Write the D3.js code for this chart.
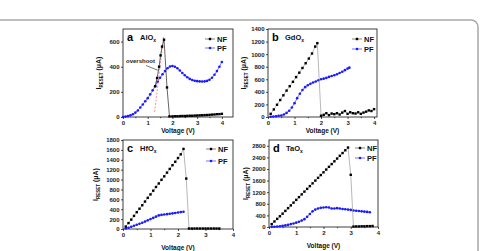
<!DOCTYPE html>
<html>
<head>
<meta charset="utf-8">
<script src="https://cdn.jsdelivr.net/npm/d3@7"></script>
<style>
body{margin:0;background:#fff;}
svg{display:block;font-family:"Liberation Sans",Arial,sans-serif;font-weight:bold;}
</style>
</head>
<body>
<script>
//values: voltage (V) and reset current (uA)
var aNfV = [1.30,1.38,1.46,1.52,1.58,1.66,1.78,1.88,2.0,2.1,2.2,2.3,2.4,2.5,2.6,2.7,2.8,2.9,3.0,3.1,3.2,3.3,3.4,3.5,3.6,3.7,3.8,3.9,4.0];
var aNfI = [245,310,400,490,560,615,235,5,5,6,6,7,8,8,9,10,10,11,12,13,14,15,16,17,19,20,22,23,25];
var aPfV = [0,0.1,0.2,0.3,0.4,0.5,0.6,0.7,0.8,0.9,1.0,1.1,1.2,1.3,1.4,1.5,1.6,1.7,1.8,1.9,2.0,2.1,2.2,2.3,2.4,2.5,2.6,2.7,2.8,2.9,3.0,3.1,3.2,3.3,3.4,3.5,3.6,3.7,3.8,3.9,4.0];
var aPfI = [0,3,7,13,22,35,52,75,100,125,150,180,212,245,280,312,340,365,388,402,406,400,388,370,350,332,316,303,294,288,285,283,282,283,287,296,312,336,365,400,437];
var aFitV = [1.28,1.64];
var aFitI = [40,640];

var bNfV = [0.10,0.22,0.34,0.46,0.58,0.70,0.82,0.94,1.06,1.18,1.30,1.42,1.54,1.66,1.78,1.86,2.0,2.1,2.2,2.3,2.4,2.5,2.6,2.7,2.8,2.9,3.0,3.1,3.2,3.3,3.4,3.5,3.6,3.7,3.8,3.9,4.0];
var bNfI = [50,120,195,270,345,420,490,560,635,705,780,855,930,1010,1120,1175,20,35,60,30,55,45,60,40,70,95,50,75,60,55,75,50,70,85,105,95,125];
var bPfV = [0.1,0.2,0.3,0.4,0.5,0.6,0.7,0.8,0.9,1.0,1.1,1.2,1.3,1.4,1.5,1.6,1.7,1.8,1.9,2.0,2.1,2.2,2.3,2.4,2.5,2.6,2.7,2.8,2.9,3.0,3.07];
var bPfI = [5,8,12,18,25,40,65,100,150,220,300,370,430,475,505,528,548,565,585,600,610,622,638,652,665,680,700,720,745,770,785];

var cNfV = [0.1,0.2,0.3,0.4,0.5,0.6,0.7,0.8,0.9,1.0,1.1,1.2,1.3,1.4,1.5,1.6,1.7,1.8,1.9,2.0,2.1,2.2,2.3,2.4,2.5,2.6,2.7,2.8,2.9,3.0,3.1,3.2,3.3,3.4,3.5];
var cNfI = [50,120,190,265,340,410,480,555,630,700,775,850,920,995,1065,1140,1215,1290,1360,1435,1510,1620,1020,10,10,10,10,10,10,10,10,10,10,10,10];
var cPfV = [0.1,0.2,0.3,0.4,0.5,0.6,0.7,0.8,0.9,1.0,1.1,1.2,1.3,1.4,1.5,1.6,1.7,1.8,1.9,2.0,2.1,2.2];
var cPfI = [12,25,45,65,85,105,125,150,175,200,225,250,275,285,292,300,308,316,325,333,342,348];

var dNfV = [0.1,0.2,0.3,0.4,0.5,0.6,0.7,0.8,0.9,1.0,1.1,1.2,1.3,1.4,1.5,1.6,1.7,1.8,1.9,2.0,2.1,2.2,2.3,2.4,2.5,2.6,2.7,2.8,2.9,3.0,3.1,3.2,3.3,3.4,3.5,3.6,3.7,3.8];
var dNfI = [100,190,280,370,460,555,650,745,840,935,1030,1125,1220,1315,1410,1505,1600,1695,1790,1885,1980,2075,2170,2265,2360,2455,2550,2645,2740,1800,15,20,20,25,25,30,30,35];
var dPfV = [0.1,0.2,0.3,0.4,0.5,0.6,0.7,0.8,0.9,1.0,1.1,1.2,1.3,1.4,1.5,1.6,1.7,1.8,1.9,2.0,2.1,2.2,2.3,2.4,2.5,2.6,2.7,2.8,2.9,3.0,3.1,3.2,3.3,3.4,3.5,3.6,3.7];
var dPfI = [5,10,15,25,40,55,75,100,120,150,180,220,270,350,450,540,600,640,660,670,680,670,640,640,650,640,620,610,600,590,570,560,550,540,530,520,510];

var xTicks = [0,1,2,3,4];
var xMinor = [0.5,1.5,2.5,3.5];
var aYTicks = [0,200,400,600];
var bYTicks = [0,200,400,600,800,1000,1200,1400];
var cYTicks = [0,200,400,600,800,1000,1200,1400,1600,1800];
var dYTicks = [0,400,800,1200,1600,2000,2400,2800];
var letters = ["a","b","c","d"];
var oxides = ["AlO","GdO","HfO","TaO"];
var seriesNames = ["NF","PF"];

var svg = d3.select("body").append("svg")
    .attr("width", 480)
    .attr("height", 251);

//grey rounded frame of the figure
svg.append("rect")
    .attr("x", -20).attr("y", 20)
    .attr("width", 498).attr("height", 260)
    .attr("rx", 7)
    .attr("fill", "none")
    .attr("stroke", "#a8a8a8")
    .attr("stroke-width", 1.5);

var panels = [
    {id:0, nfV:aNfV, nfI:aNfI, pfV:aPfV, pfI:aPfI, yTicks:aYTicks, xMax:4.45, yMax:700,
     left:123, right:233, top:29, bottom:117, nfLine:"#222", legX:205, legY:39, legGap:9, ylabX:101, xlabY:133},
    {id:1, nfV:bNfV, nfI:bNfI, pfV:bPfV, pfI:bPfI, yTicks:bYTicks, xMax:4.11, yMax:1400,
     left:268, right:377, top:29, bottom:117, nfLine:"#999", legX:352, legY:39, legGap:10, ylabX:246, xlabY:133},
    {id:2, nfV:cNfV, nfI:cNfI, pfV:cPfV, pfI:cPfI, yTicks:cYTicks, xMax:4, yMax:1800,
     left:123, right:233, top:140, bottom:229, nfLine:"#999", legX:206, legY:149, legGap:12, ylabX:98, xlabY:250},
    {id:3, nfV:dNfV, nfI:dNfI, pfV:dPfV, pfI:dPfI, yTicks:dYTicks, xMax:4, yMax:3000,
     left:269, right:378, top:140, bottom:227, nfLine:"#999", legX:355, legY:148, legGap:10, ylabX:248, xlabY:248}
];

panels.forEach(drawPanel);

function drawPanel(p){
    var x = d3.scaleLinear().domain([0, p.xMax]).range([p.left, p.right]);
    var y = d3.scaleLinear().domain([0, p.yMax]).range([p.bottom, p.top]);
    var g = svg.append("g");

    //axes with outward ticks
    var xa = g.append("g").attr("transform", "translate(0," + p.bottom + ")")
        .call(d3.axisBottom(x).tickValues(xTicks).tickSize(2).tickPadding(1.5).tickFormat(d3.format("d")));
    g.append("g").attr("transform", "translate(0," + p.bottom + ")")
        .call(d3.axisBottom(x).tickValues(xMinor).tickSize(1.2).tickFormat(""));
    var ya = g.append("g").attr("transform", "translate(" + p.left + ",0)")
        .call(d3.axisLeft(y).tickValues(p.yTicks).tickSize(2).tickPadding(1.5).tickFormat(d3.format("d")));
    g.selectAll(".domain").remove();
    g.selectAll(".tick line").attr("stroke", "#000").attr("stroke-width", 0.7);
    g.selectAll(".tick text").attr("font-size", 6).attr("font-family", "Liberation Sans, Arial, sans-serif")
        .attr("font-weight", "bold").attr("fill", "#222");

    g.append("rect")
        .attr("x", p.left).attr("y", p.top)
        .attr("width", p.right - p.left).attr("height", p.bottom - p.top)
        .attr("fill", "none").attr("stroke", "#111").attr("stroke-width", 0.8);

    var line = d3.line()
        .x(function(d){ return x(d[0]); })
        .y(function(d){ return y(d[1]); });

    var nf = d3.zip(p.nfV, p.nfI);
    var pf = d3.zip(p.pfV, p.pfI);

    g.append("path").datum(pf).attr("d", line)
        .attr("fill", "none").attr("stroke", "#1a1aff").attr("stroke-width", 0.6);
    g.selectAll(".pf").data(pf).enter().append("circle")
        .attr("class", "pf")
        .attr("cx", function(d){ return x(d[0]); })
        .attr("cy", function(d){ return y(d[1]); })
        .attr("r", 1.3)
        .attr("fill", "#1a1aff");

    if (p.id === 0){
        //linear fit showing the overshoot
        g.append("path").datum(d3.zip(aFitV, aFitI)).attr("d", line)
            .attr("fill", "none").attr("stroke", "#f06a6a").attr("stroke-width", 0.7)
            .attr("stroke-dasharray", "2,1.5");
    }

    g.append("path").datum(nf).attr("d", line)
        .attr("fill", "none").attr("stroke", p.nfLine).attr("stroke-width", 0.7);
    g.selectAll(".nf").data(nf).enter().append("rect")
        .attr("class", "nf")
        .attr("x", function(d){ return x(d[0]) - 1.2; })
        .attr("y", function(d){ return y(d[1]) - 1.2; })
        .attr("width", 2.4).attr("height", 2.4)
        .attr("fill", "#000");

    if (p.id === 0){
        g.append("text").attr("x", 126).attr("y", 63)
            .attr("font-size", 6).attr("fill", "#222").text("overshoot");
        g.append("line")
            .attr("x1", 146).attr("y1", 65.5)
            .attr("x2", x(1.41)).attr("y2", y(372))
            .attr("stroke", "#222").attr("stroke-width", 0.6);
    }

    //legend
    seriesNames.forEach(function(name, i){
        var ly = p.legY + i * p.legGap;
        var col = i === 0 ? "#000" : "#1a1aff";
        g.append("line")
            .attr("x1", p.legX).attr("x2", p.legX + 10)
            .attr("y1", ly).attr("y2", ly)
            .attr("stroke", i === 0 ? "#333" : col).attr("stroke-width", 0.6);
        if (i === 0){
            g.append("rect").attr("x", p.legX + 3.8).attr("y", ly - 1.2)
                .attr("width", 2.4).attr("height", 2.4).attr("fill", col);
        } else {
            g.append("circle").attr("cx", p.legX + 5).attr("cy", ly).attr("r", 1.3).attr("fill", col);
        }
        g.append("text").attr("x", p.legX + 12).attr("y", ly + 2.7)
            .attr("font-size", 7.5).attr("fill", "#111").text(name);
    });

    //panel letter and material
    g.append("text").attr("x", p.left + 4).attr("y", p.top + 12)
        .attr("font-size", 11).attr("fill", "#000").text(letters[p.id]);
    var mt = g.append("text").attr("x", p.left + 17).attr("y", p.top + 11)
        .attr("font-size", 7.5).attr("fill", "#111");
    mt.append("tspan").text(oxides[p.id]);
    mt.append("tspan").attr("font-size", 5).attr("dy", 2).text("x");

    //axis titles
    g.append("text")
        .attr("x", (p.left + p.right) / 2).attr("y", p.xlabY)
        .attr("text-anchor", "middle").attr("font-size", 6.5).attr("fill", "#111")
        .text("Voltage (V)");
    var yl = g.append("text")
        .attr("transform", "translate(" + p.ylabX + "," + ((p.top + p.bottom) / 2) + ") rotate(-90)")
        .attr("text-anchor", "middle").attr("font-size", 7).attr("fill", "#111");
    yl.append("tspan").text("I");
    yl.append("tspan").attr("font-size", 4.5).attr("dy", 1.8).text("RESET");
    yl.append("tspan").attr("dy", -1.8).text(" (\u03bcA)");
}
</script>
</body>
</html>
